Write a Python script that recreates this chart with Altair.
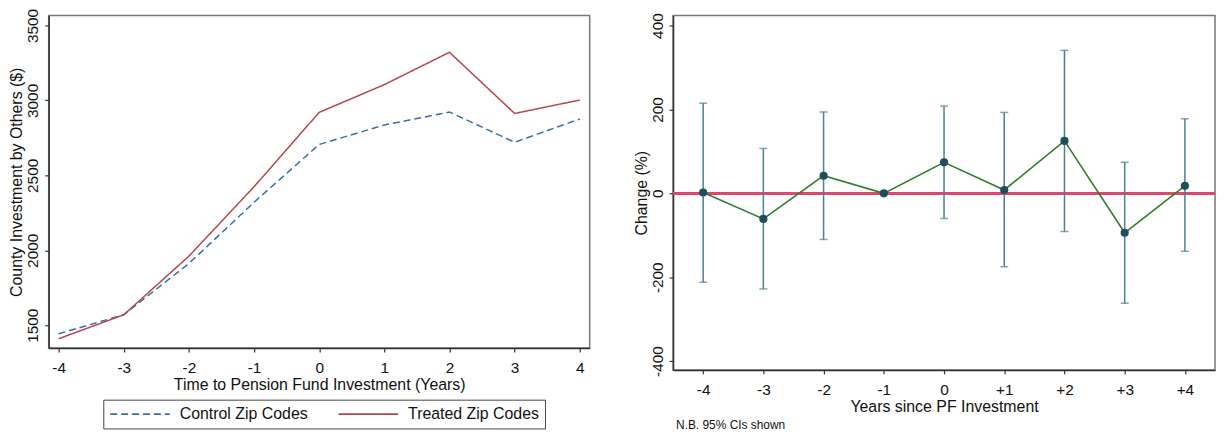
import altair as alt
import pandas as pd

# ---- Left panel data ----
years = [-4, -3, -2, -1, 0, 1, 2, 3, 4]
control = [1443, 1570, 1912, 2320, 2706, 2836, 2922, 2721, 2876]
treated = [1410, 1570, 1961, 2424, 2920, 3105, 3321, 2913, 3002]
groups = ["Control Zip Codes", "Treated Zip Codes"]

# ---- Right panel data ----
event_years = [-4, -3, -2, -1, 0, 1, 2, 3, 4]
change = [2, -61, 42, 0, 74, 8, 125, -94, 18]
ci_low = [-212, -228, -110, 0, -60, -175, -91, -262, -138]
ci_high = [215, 107, 194, 0, 208, 193, 341, 74, 178]
note_text = ["N.B. 95% CIs shown"]

FONT = "Liberation Sans"
FS = 15.5
TFS = 16

left_df = pd.DataFrame(
    {"year": years * 2,
     "value": control + treated,
     "group": [groups[0]] * len(years) + [groups[1]] * len(years)}
)
right_df = pd.DataFrame({"t": event_years, "chg": change, "lo": ci_low, "hi": ci_high})
ci_df = right_df[right_df["lo"] != right_df["hi"]]

axis_common = dict(
    grid=False, domain=True, domainColor="#333", domainWidth=1.5,
    tickColor="#333", tickSize=4, tickWidth=1.2,
    labelFont=FONT, labelFontSize=FS, labelColor="#111",
    titleFont=FONT, titleFontSize=TFS, titleFontWeight="normal", titleColor="#111",
)

legend_def = alt.Legend(
    title=None, orient="none", legendX=55, legendY=387,
    direction="horizontal", strokeColor="#444", padding=6,
    symbolType="stroke", symbolSize=3600, symbolStrokeWidth=1.8,
    clipHeight=17,
    labelFont=FONT, labelFontSize=TFS, labelColor="#111",
    columnPadding=30, labelOffset=9,
)

left = alt.Chart(left_df).mark_line(strokeWidth=1.5).encode(
    x=alt.X("year:Q",
            scale=alt.Scale(domain=[-4.152, 4.152], nice=False, zero=False),
            axis=alt.Axis(values=years, title="Time to Pension Fund Investment (Years)",
                          labelExpr="'' + datum.value",
                          titlePadding=0, labelPadding=9, **axis_common)),
    y=alt.Y("value:Q",
            scale=alt.Scale(domain=[1348, 3566], nice=False, zero=False),
            axis=alt.Axis(values=[1500, 2000, 2500, 3000, 3500],
                          title="County Investment by Others ($)",
                          labelExpr="'' + datum.value",
                          labelAngle=-90, labelAlign="center", labelBaseline="bottom",
                          labelPadding=4, titlePadding=1, **axis_common)),
    color=alt.Color("group:N",
                    scale=alt.Scale(domain=groups, range=["#3a6ea5", "#b5464b"]),
                    legend=legend_def),
    strokeDash=alt.StrokeDash("group:N",
                              scale=alt.Scale(domain=groups, range=[[7, 4], [1, 0]]),
                              legend=legend_def),
).properties(width=545, height=335)

x_right = alt.X("t:Q",
                scale=alt.Scale(domain=[-4.5, 4.5], nice=False, zero=False),
                axis=alt.Axis(values=event_years, title="Years since PF Investment",
                              labelExpr="datum.value > 0 ? '+' + datum.value : '' + datum.value",
                              titlePadding=0, labelPadding=9, **axis_common))
y_scale_r = alt.Scale(domain=[-421, 424], nice=False, zero=False)
y_axis_r = alt.Axis(values=[-400, -200, 0, 200, 400], title="Change (%)",
                    labelExpr="'' + datum.value",
                    labelAngle=-90, labelAlign="center", labelBaseline="bottom",
                    labelPadding=4, titlePadding=1, **axis_common)

base_r = alt.Chart(right_df)
zero_line = base_r.mark_rule(color="#d94a6e", strokeWidth=2.2).encode(
    y=alt.datum(0, scale=y_scale_r, axis=y_axis_r, type="quantitative"),
)
ci_rules = alt.Chart(ci_df).mark_rule(color="#4d7f8c", strokeWidth=1.5).encode(
    x=x_right, y=alt.Y("lo:Q", scale=y_scale_r, axis=y_axis_r), y2="hi:Q"
)
ci_top = alt.Chart(ci_df).mark_tick(color="#4d7f8c", thickness=1.5, size=8, orient="horizontal").encode(
    x=x_right, y=alt.Y("hi:Q", scale=y_scale_r, axis=y_axis_r)
)
ci_bot = alt.Chart(ci_df).mark_tick(color="#4d7f8c", thickness=1.5, size=8, orient="horizontal").encode(
    x=x_right, y=alt.Y("lo:Q", scale=y_scale_r, axis=y_axis_r)
)
line_r = base_r.mark_line(color="#2d7f2d", strokeWidth=1.6).encode(
    x=x_right, y=alt.Y("chg:Q", scale=y_scale_r, axis=y_axis_r)
)
pts_r = base_r.mark_circle(color="#1d4e5a", size=68, opacity=1).encode(
    x=x_right, y=alt.Y("chg:Q", scale=y_scale_r, axis=y_axis_r)
)
note = alt.Chart(pd.DataFrame({"txt": note_text})).mark_text(
    font=FONT, fontSize=12, align="left", baseline="middle", color="#111"
).encode(x=alt.value(3), y=alt.value(412.5), text="txt:N")

right = alt.layer(zero_line, ci_rules, ci_top, ci_bot, line_r, pts_r, note).properties(
    width=546, height=357
)

chart = alt.hconcat(left, right, spacing=42).properties(
    padding={"left": 0, "top": -3, "right": 0, "bottom": 0},
    background="white",
).configure_view(stroke="#777", strokeWidth=1.5).configure_concat(spacing=42)

chart.save("out.html", embed_options={"renderer": "svg", "actions": False})
